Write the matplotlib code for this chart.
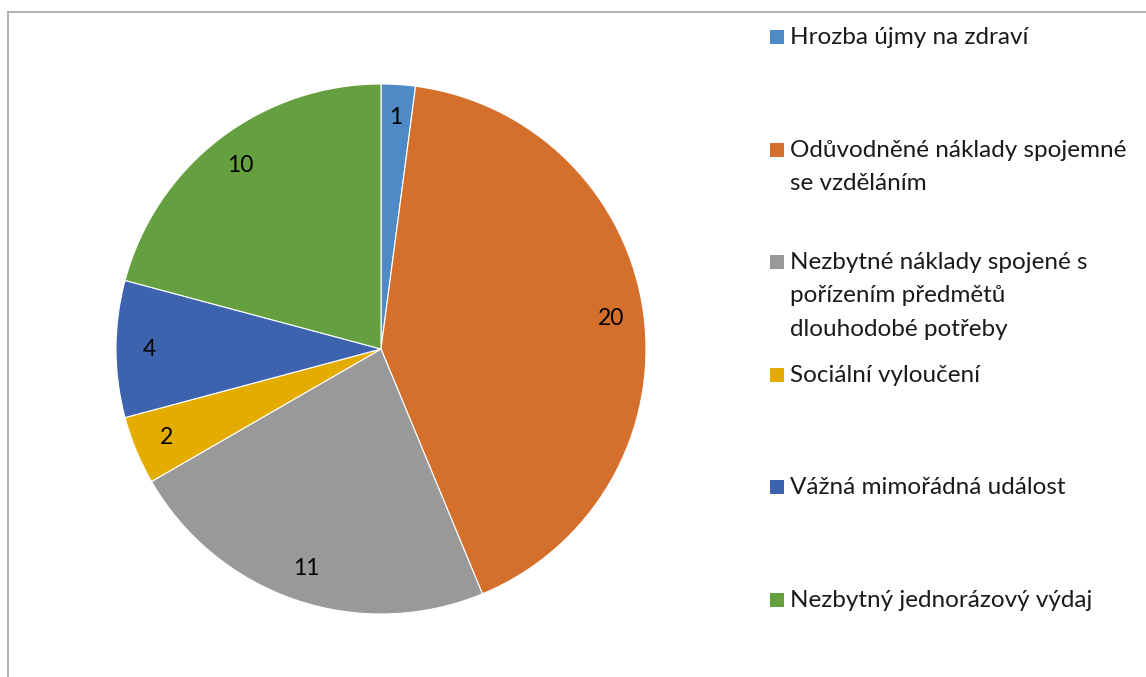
import matplotlib
matplotlib.use('Agg')
import matplotlib.pyplot as plt
from matplotlib.lines import Line2D
from matplotlib.patches import Rectangle

plt.rcParams['font.family'] = ['Lato', 'DejaVu Sans']

# data
labels = [
    'Hrozba újmy na zdraví',
    'Odůvodněné náklady spojemné\nse vzděláním',
    'Nezbytné náklady spojené s\npořízením předmětů\ndlouhodobé potřeby',
    'Sociální vyloučení',
    'Vážná mimořádná událost',
    'Nezbytný jednorázový výdaj',
]
values = [1, 20, 11, 2, 4, 10]
colors = ['#4E8AC6', '#D4702B', '#999999', '#E5AC00', '#3E63AE', '#64A03F']

W, H = 1146, 677
fig = plt.figure(figsize=(W / 100, H / 100), dpi=100)

# pie placed by pixel box
cx, cy, r = 381, 349, 265
ax = fig.add_axes([(cx - r) / W, (H - cy - r) / H, 2 * r / W, 2 * r / H])
wedges, texts = ax.pie(values, colors=colors, startangle=90, counterclock=False,
                       labels=[str(v) for v in values], labeldistance=0.875,
                       wedgeprops=dict(edgecolor='white', linewidth=0.8),
                       textprops=dict(fontsize=16.5, color='black'))
for t in texts:
    t.set_horizontalalignment('center')
    t.set_verticalalignment('center')
ax.set_xlim(-1, 1)
ax.set_ylim(-1, 1)
ax.set_aspect('equal')
ax.axis('off')

# legend, Excel style: fixed row spacing
row_y = 37
for lab, col in zip(labels, colors):
    fig.add_artist(Rectangle((770 / W, 1 - (row_y + 7) / H), 14 / W, 14 / H,
                             transform=fig.transFigure, facecolor=col, edgecolor='none'))
    fig.text(790 / W, 1 - (row_y - 10) / H, lab, fontsize=17.5, va='top', ha='left',
             linespacing=1.72, color='#1a1a1a')
    row_y += 112.6

# chart area border (partly visible)
fig.add_artist(Line2D([8 / W, 1], [1 - 12 / H, 1 - 12 / H], color='#a6a6a6', lw=1.2,
                      transform=fig.transFigure))
fig.add_artist(Line2D([8 / W, 8 / W], [0, 1 - 12 / H], color='#a6a6a6', lw=1.2,
                      transform=fig.transFigure))

fig.savefig('out.png', dpi=100)
